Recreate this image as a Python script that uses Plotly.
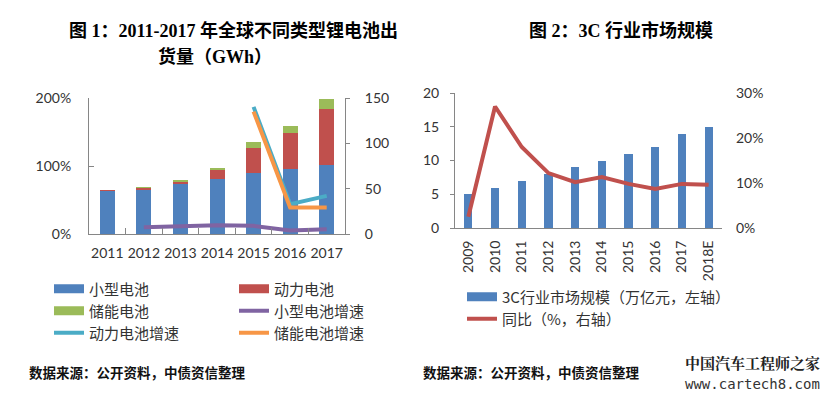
import plotly.graph_objects as go

W, H = 830, 399

# ---------------- data: chart 1 ----------------
years1 = ["2011", "2012", "2013", "2014", "2015", "2016", "2017"]
small = [47.5, 49.4, 56.0, 60.4, 67.8, 71.5, 75.9]       # 小型电池 GWh
power = [0.4, 1.8, 1.9, 10.0, 27.3, 39.5, 62.3]          # 动力电池 GWh
storage = [0.0, 0.5, 0.7, 2.6, 6.6, 8.4, 11.1]           # 储能电池 GWh
small_growth = [None, 0.10, 0.11, 0.13, 0.12, 0.05, 0.07]
power_growth = [None, None, None, None, 1.87, 0.44, 0.56]
storage_growth = [None, None, None, None, 1.80, 0.39, 0.39]

# ---------------- data: chart 2 ----------------
years2 = ["2009", "2010", "2011", "2012", "2013", "2014", "2015", "2016", "2017", "2018E"]
market = [5, 6, 7, 8, 9, 10, 11, 12, 14, 15]             # 万亿元
yoy = [0.025, 0.27, 0.18, 0.122, 0.102, 0.113, 0.098, 0.087, 0.098, 0.096]

BLUE, RED, GREEN = "#4F81BD", "#C0504D", "#9BBB59"
PURPLE, CYAN, ORANGE = "#8064A2", "#4BACC6", "#F79646"
AXC = "#868686"
TICKFONT = dict(family="Lato, Noto Sans CJK SC", size=14, color="#333")
LEGFONT = dict(family="Noto Sans CJK SC", size=15, color="#333")

fig = go.Figure()

# bars chart 1 (GWh, right axis 'y')
for name, vals, col in [("小型电池", small, BLUE), ("动力电池", power, RED), ("储能电池", storage, GREEN)]:
    fig.add_trace(go.Bar(x=years1, y=vals, name=name, marker=dict(color=col, line=dict(width=0)),
                         width=0.41, xaxis="x", yaxis="y", showlegend=False))

# growth lines chart 1 (left % axis 'y2')
for name, vals, col in [("小型电池增速", small_growth, PURPLE), ("动力电池增速", power_growth, CYAN),
                        ("储能电池增速", storage_growth, ORANGE)]:
    fig.add_trace(go.Scatter(x=years1, y=vals, name=name, mode="lines", line=dict(color=col, width=4),
                             xaxis="x", yaxis="y2", showlegend=False))

# chart 2
fig.add_trace(go.Bar(x=years2, y=market, name="3C行业市场规模（万亿元，左轴）", marker=dict(color=BLUE, line=dict(width=0)),
                     width=0.31, xaxis="x3", yaxis="y3", showlegend=False))
fig.add_trace(go.Scatter(x=years2, y=yoy, name="同比（%，右轴）", mode="lines", line=dict(color=RED, width=4),
                         xaxis="x3", yaxis="y4", showlegend=False))

# legend entries (each in its own legend so that placement matches the original)
# (name, colour, symbol line width, legend x in px, row centre y in px, xaxis, yaxis)
entries = [
    ("小型电池", BLUE, 9, 49, 289, "x", "y"),
    ("动力电池", RED, 9, 234, 289, "x", "y"),
    ("储能电池", GREEN, 9, 49, 311, "x", "y"),
    ("小型电池增速", PURPLE, 4, 234, 311, "x", "y2"),
    ("动力电池增速", CYAN, 4, 49, 333, "x", "y2"),
    ("储能电池增速", ORANGE, 4, 234, 333, "x", "y2"),
    ("3C行业市场规模（万亿元，左轴）", BLUE, 9, 462, 297, "x3", "y3"),
    ("同比（%，右轴）", RED, 4, 462, 319, "x3", "y4"),
]
legend_layout = {}
for i, (name, col, lw, lx, sy, xa, ya) in enumerate(entries):
    key = "legend" if i == 0 else f"legend{i+1}"
    fig.add_trace(go.Scatter(x=[None], y=[None], name=name, mode="lines", line=dict(color=col, width=lw),
                             xaxis=xa, yaxis=ya, legend=key, showlegend=True))
    legend_layout[key] = dict(x=lx / W, y=1 - sy / H, xanchor="left", yanchor="middle",
                              font=LEGFONT, bgcolor="rgba(0,0,0,0)", borderwidth=0)

def px_x(a, b):
    return [a / W, b / W]

def px_y(top, bottom):
    return [1 - bottom / H, 1 - top / H]

common = dict(showgrid=False, zeroline=False, automargin=False, tickfont=TICKFONT)

fig.update_layout(
    template="none",
    width=W, height=H,
    margin=dict(l=0, r=0, t=0, b=0, pad=0, autoexpand=False),
    paper_bgcolor="white", plot_bgcolor="white",
    barmode="stack",
    showlegend=True,
    xaxis=dict(domain=px_x(89, 345), type="category", anchor="y", showline=True, linecolor=AXC, linewidth=1,
               ticks="inside", tickson="boundaries", ticklen=6, tickcolor=AXC, tickangle=0,
               ticklabelstandoff=6, **common),
    yaxis=dict(domain=px_y(98, 234), anchor="x", side="right", range=[0, 150], dtick=50,
               showline=True, linecolor=AXC, ticks="outside", ticklen=4, tickcolor=AXC,
               ticklabelstandoff=12, **common),
    yaxis2=dict(overlaying="y", anchor="x", side="left", range=[0, 2], dtick=1, tickformat=".0%",
                showline=True, linecolor=AXC, ticks="inside", ticklen=5, tickcolor=AXC,
                ticklabelstandoff=14, **common),
    xaxis3=dict(domain=px_x(455, 722), type="category", anchor="y3", showline=True, linecolor=AXC,
                ticks="", tickangle=-90, ticklabelstandoff=6, **common),
    yaxis3=dict(domain=px_y(93, 228), anchor="x3", side="left", range=[0, 20], dtick=5,
                showline=True, linecolor=AXC, ticks="outside", ticklen=4, tickcolor=AXC,
                ticklabelstandoff=8, **common),
    yaxis4=dict(overlaying="y3", anchor="x3", side="right", range=[0, 0.3], dtick=0.1, tickformat=".0%",
                showline=False, ticks="", ticklabelstandoff=13, **common),
    **legend_layout,
)

TITLEFONT = dict(family="Liberation Serif, Noto Sans CJK SC", size=18, color="#000")
SRCFONT = dict(family="Noto Sans CJK SC", size=13.5, color="#111")
annos = [
    ("<b>图 1：2011-2017 年全球不同类型锂电池出</b>", 67, 30, TITLEFONT),
    ("<b>货量（GWh）</b>", 156, 57, TITLEFONT),
    ("<b>图 2：3C 行业市场规模</b>", 527, 30, TITLEFONT),
    ("<b>数据来源：公开资料，中债资信整理</b>", 27, 372, SRCFONT),
    ("<b>数据来源：公开资料，中债资信整理</b>", 421, 372, SRCFONT),
    ("<b>中国汽车工程师之家</b>", 683, 362, dict(family="Noto Serif CJK SC, Noto Sans CJK SC", size=15, color="#222")),
    ("www.cartech8.com", 683, 384, dict(family="DejaVu Sans Mono", size=14, color="#333")),
]
fig.update_layout(annotations=[
    dict(text=t, x=x / W, y=1 - y / H, xref="paper", yref="paper", xanchor="left", yanchor="middle",
         align="left", showarrow=False, font=f) for t, x, y, f in annos
])

fig.write_html("out.html",
               config={"displayModeBar": False},
               post_script="document.body.style.margin='0';document.body.style.padding='0';")
